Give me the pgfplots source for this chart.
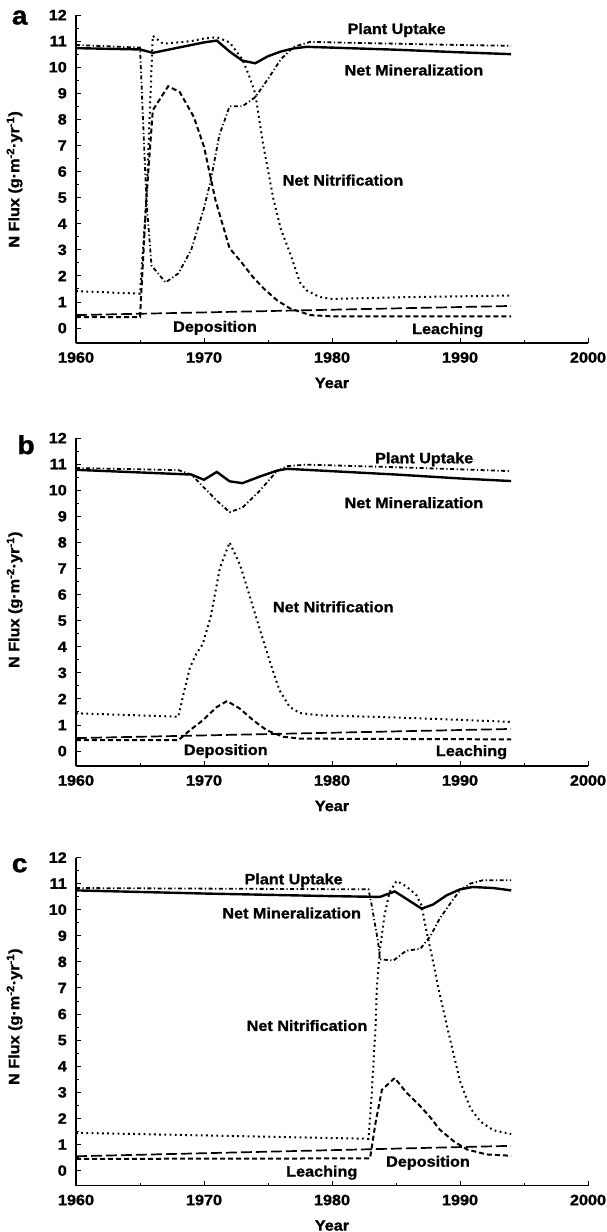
\documentclass[border=0pt]{standalone}
\usepackage{pgfplots}
\pgfplotsset{compat=1.18}
\usepackage{fontspec}
\setmainfont{Liberation Sans}[FakeStretch=1.08, BoldFeatures={FakeBold=1.2}]
\newcommand{\lbl}{\fontsize{15}{18}\selectfont\bfseries}
\newcommand{\panelfont}{\fontsize{26}{30}\selectfont\bfseries}
\begin{document}
\lbl
\begin{tikzpicture}[x=1pt,y=1pt]
\path[use as bounding box] (0,0) rectangle (607,-1232);
\pgfplotsset{
  panel/.style={
    scale only axis, width=512pt, height=328pt,
    xmin=1960, xmax=2000, ymin=-0.57, ymax=12,
    axis x line*=bottom, axis y line*=left,
    axis line style={line width=1.8pt,-},
    xtick={1960,1970,1980,1990,2000}, ytick={0,1,...,12},
    minor x tick num=1, minor y tick num=1,
    tick align=inside, major tick length=5pt, minor tick length=3pt,
    tick style={line width=1pt, black},
    /pgf/number format/assume math mode=true,
    /pgf/number format/set thousands separator={},
    ticklabel style={font=\lbl},
    xticklabel style={yshift=-4pt},
    yticklabel style={xshift=-4pt},
    clip=false,
    xlabel={Year},
    xlabel style={font=\lbl, at={(axis description cs:0.5,0)}, anchor=center, yshift=-40pt},
  },
  minz/.style={black, line width=2.4pt},
  upt/.style={black, line width=1.8pt, dash pattern=on 4pt off 2.5pt on 1.2pt off 2.5pt},
  nit/.style={black, line width=2pt, dash pattern=on 1.8pt off 3.4pt},
  dep/.style={black, line width=1.7pt, dash pattern=on 11pt off 4pt},
  lea/.style={black, line width=2pt, dash pattern=on 5pt off 3pt},
}
% ---------------- panel a
\begin{axis}[panel, at={(76pt,-343pt)}, anchor=south west]
\addplot[minz] coordinates {(1960,10.73) (1965,10.68) (1966,10.55) (1968,10.75) (1970,10.95) (1971,11.02) (1972,10.6) (1973,10.25) (1974,10.15) (1975,10.42) (1976,10.6) (1977,10.72) (1978,10.78) (1980,10.75) (1985,10.67) (1990,10.57) (1994,10.5)};
\addplot[upt] coordinates {(1960,10.85) (1965,10.75) (1965.5,4.9) (1965.9,2.4) (1967,1.75) (1968,2.1) (1969,3.0) (1970,4.6) (1970.5,5.6) (1971.2,7.4) (1972,8.5) (1973,8.5) (1974,8.85) (1975,9.55) (1976,10.3) (1977,10.78) (1978.3,10.97) (1980,10.95) (1985,10.9) (1990,10.85) (1994,10.82)};
\addplot[nit] coordinates {(1960,1.42) (1965,1.32) (1965.5,4.9) (1966,11.2) (1966.8,10.9) (1968,10.95) (1969,11.0) (1970,11.1) (1971,11.15) (1972,10.95) (1973,10.3) (1973.5,9.7) (1974,9.0) (1974.6,7.1) (1975.4,5.0) (1976,3.8) (1976.7,2.9) (1977.5,1.75) (1978,1.45) (1979,1.2) (1980,1.12) (1985,1.18) (1990,1.22) (1994,1.25)};
\addplot[lea] coordinates {(1960,0.42) (1965,0.42) (1965.5,5) (1966,8.35) (1967.2,9.27) (1968.1,9.05) (1969.2,8.1) (1970,6.95) (1970.9,4.9) (1972,3.06) (1972.9,2.54) (1973.8,1.97) (1974.7,1.5) (1975.7,1.07) (1976.7,0.76) (1978.3,0.5) (1980,0.45) (1994,0.45)};
\addplot[dep] coordinates {(1960,0.5) (1994,0.85)};
\node at (axis cs:1985.05,11.42) {Plant Uptake};
\node at (axis cs:1986.4,9.89) {Net Mineralization};
\node at (axis cs:1980.86,5.67) {Net Nitrification};
\node at (axis cs:1970.86,0.01) {Deposition};
\node at (axis cs:1989.04,-0.08) {Leaching};
\node at (axis cs:1955.6,11.9) {\panelfont a};
\node[rotate=90] at (axis cs:1955.2,5.7) {N Flux (g·m\textsuperscript{-2}·yr\textsuperscript{-1})};
\end{axis}
% ---------------- panel b
\begin{axis}[panel, at={(76pt,-766pt)}, anchor=south west]
\addplot[minz] coordinates {(1960,10.78) (1969,10.6) (1970,10.4) (1971,10.7) (1972,10.34) (1973,10.27) (1974.4,10.53) (1975.7,10.75) (1976.5,10.82) (1978,10.78) (1985,10.6) (1990,10.45) (1994,10.35)};
\addplot[upt] coordinates {(1960,10.85) (1968,10.77) (1969,10.6) (1970,10.1) (1971,9.6) (1972,9.16) (1973,9.33) (1974.3,9.95) (1975.7,10.73) (1976.5,10.92) (1978,10.98) (1985,10.88) (1990,10.8) (1994,10.73)};
\addplot[nit] coordinates {(1960,1.45) (1968,1.32) (1968.4,2.2) (1968.9,3.2) (1969.4,3.73) (1969.9,4.1) (1970.5,5.1) (1971.25,7.03) (1972,8.0) (1972.8,7.16) (1973.6,5.9) (1974.4,4.6) (1975.2,3.35) (1975.9,2.33) (1976.7,1.69) (1977.5,1.46) (1979.1,1.37) (1983.75,1.31) (1990,1.2) (1994,1.12)};
\addplot[lea] coordinates {(1960,0.42) (1968,0.42) (1968.9,0.8) (1969.9,1.18) (1971,1.69) (1971.8,1.92) (1972.8,1.63) (1973.85,1.18) (1974.9,0.8) (1976.2,0.55) (1977.5,0.48) (1994,0.45)};
\addplot[dep] coordinates {(1960,0.5) (1994,0.85)};
\node at (axis cs:1987.2,11.18) {Plant Uptake};
\node at (axis cs:1986.4,9.52) {Net Mineralization};
\node at (axis cs:1980.1,5.53) {Net Nitrification};
\node at (axis cs:1971.7,0) {Deposition};
\node at (axis cs:1990.9,-0.04) {Leaching};
\node at (axis cs:1956.1,11.74) {\panelfont b};
\node[rotate=90] at (axis cs:1955.2,5.8) {N Flux (g·m\textsuperscript{-2}·yr\textsuperscript{-1})};
\end{axis}
% ---------------- panel c
\begin{axis}[panel, at={(76pt,-1185.5pt)}, anchor=south west]
\addplot[minz] coordinates {(1960,10.74) (1970,10.62) (1980,10.52) (1983.75,10.49) (1984.9,10.7) (1985.8,10.42) (1987,10.04) (1987.9,10.2) (1988.95,10.55) (1990,10.78) (1991,10.87) (1992.6,10.83) (1994,10.74)};
\addplot[upt] coordinates {(1960,10.83) (1982.85,10.78) (1983.1,10.17) (1983.6,8.76) (1983.75,8.1) (1984.8,8.05) (1985.8,8.43) (1986.9,8.5) (1987.7,9.0) (1988.4,9.65) (1989.5,10.42) (1990,10.74) (1990.8,11.0) (1991.8,11.13) (1994,11.13)};
\addplot[nit] coordinates {(1960,1.45) (1970,1.35) (1980,1.25) (1982.85,1.22) (1983.1,2.9) (1983.4,5.5) (1983.5,7.0) (1983.75,8.5) (1984.1,9.78) (1984.5,10.68) (1985.05,11.1) (1985.8,10.9) (1986.6,10.55) (1987,10.16) (1987.4,9.13) (1987.9,8.0) (1988.4,6.8) (1989,5.5) (1989.5,4.47) (1990,3.43) (1990.8,2.4) (1991.6,1.88) (1992.6,1.55) (1994,1.4)};
\addplot[lea] coordinates {(1960,0.45) (1982.97,0.47) (1983.4,1.83) (1983.9,3.1) (1984.9,3.55) (1985.8,3.0) (1986.9,2.47) (1987.7,2.03) (1988.4,1.58) (1989.5,1.13) (1990.55,0.81) (1992.1,0.62) (1994,0.57)};
\addplot[dep] coordinates {(1960,0.55) (1994,0.95)};
\node at (axis cs:1977.0,11.12) {Plant Uptake};
\node at (axis cs:1976.85,9.87) {Net Mineralization};
\node at (axis cs:1978.05,5.56) {Net Nitrification};
\node at (axis cs:1979.2,-0.08) {Leaching};
\node at (axis cs:1987.5,0.3) {Deposition};
\node at (axis cs:1955.6,11.7) {\panelfont c};
\node[rotate=90] at (axis cs:1955.2,5.9) {N Flux (g·m\textsuperscript{-2}·yr\textsuperscript{-1})};
\end{axis}
\end{tikzpicture}
\end{document}
